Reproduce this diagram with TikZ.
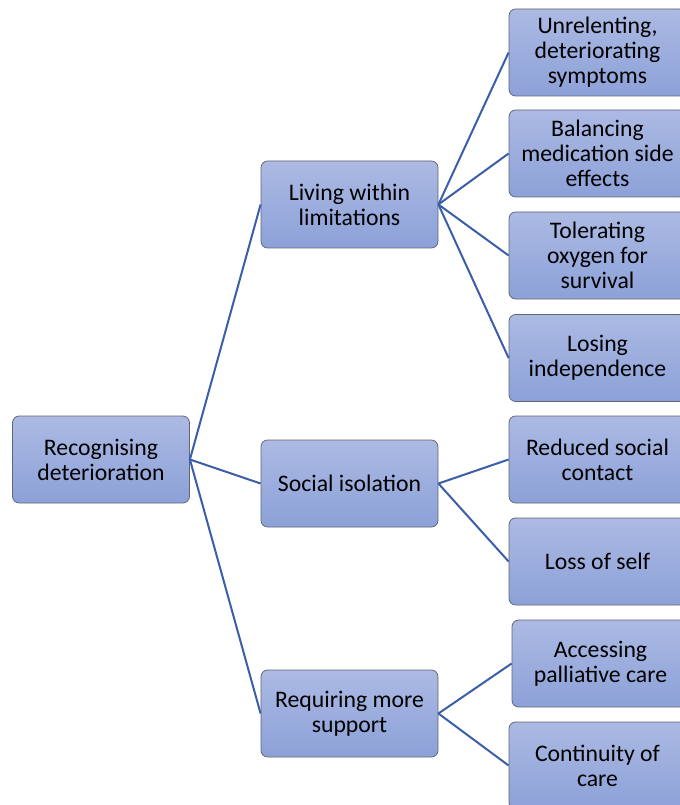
\documentclass[tikz,border=0pt]{standalone}
\usepackage{fontspec}
\setmainfont{Carlito}
\begin{document}
\begin{tikzpicture}[x=0.75pt,y=-0.75pt,
  box/.style={draw=boxedge, line width=0.6pt, rounded corners=5pt,
    top color=boxtop, bottom color=boxbottom,
    minimum width=132.75pt, minimum height=65.25pt,
    align=center, inner sep=2pt,
    font=\fontsize{17.8}{18.75}\selectfont},
  leaf/.style={box},
  link/.style={draw=linkblue, line width=1.5pt}]
\definecolor{boxtop}{HTML}{ACBAE3}
\definecolor{boxbottom}{HTML}{8CA1D8}
\definecolor{boxedge}{HTML}{606676}
\definecolor{linkblue}{HTML}{3B5EA8}
\useasboundingbox (0,0) rectangle (680,805);

% root and first level
\node[box] (root) at (101,459.5) {Recognising\\deterioration};
\node[box] (living) at (349.5,204.5) {Living within\\limitations};
\node[box] (social) at (349.5,483.5) {Social isolation};
\node[box] (support) at (349.5,713.5) {Requiring more\\support};

% leaves
\node[leaf] (l1) at (597.5,52.5) {Unrelenting,\\deteriorating\\symptoms};
\node[leaf] (l2) at (597.5,153.5) {Balancing\\medication side\\effects};
\node[leaf] (l3) at (597.5,255.5) {Tolerating\\oxygen for\\survival};
\node[leaf] (l4) at (597.5,358) {Losing\\independence};
\node[leaf] (s1) at (597.5,459.5) {Reduced social\\contact};
\node[leaf] (s2) at (597.5,561.5) {Loss of self};
\node[leaf] (r1) at (600.5,663.5) {Accessing\\palliative care};
\node[leaf] (r2) at (597.5,765.5) {Continuity of\\care};

% connectors
\foreach \c in {living,social,support}
  \draw[link] (root.east) -- (\c.west);
\foreach \c in {l1,l2,l3,l4}
  \draw[link] (living.east) -- (\c.west);
\foreach \c in {s1,s2}
  \draw[link] (social.east) -- (\c.west);
\foreach \c in {r1,r2}
  \draw[link] (support.east) -- (\c.west);
\end{tikzpicture}
\end{document}
